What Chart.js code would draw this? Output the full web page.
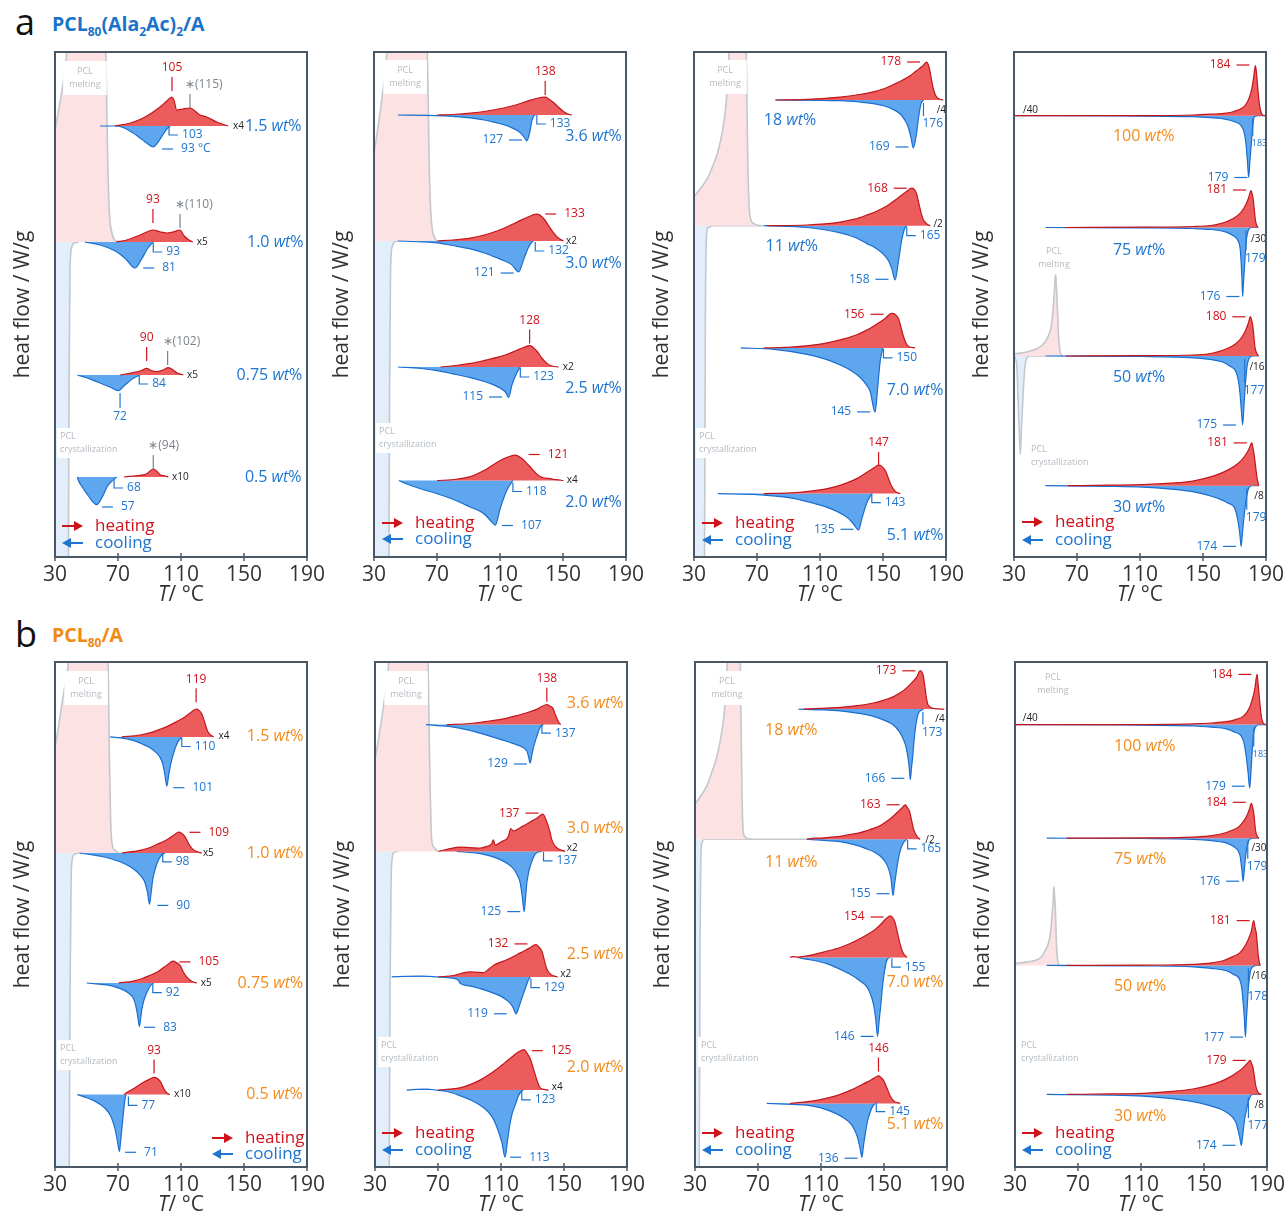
<!DOCTYPE html>
<html>
<head>
<meta charset="utf-8">
<script src="https://cdn.jsdelivr.net/npm/chart.js@4.4.0/dist/chart.umd.min.js"></script>
<style>
body{margin:0;background:#fff;width:1286px;height:1212px;position:relative;overflow:hidden;font-family:"Open Sans","Noto Sans",sans-serif}
canvas{position:absolute}
.hd{position:absolute;line-height:1}
.s{font-size:12px;position:relative;top:5px}
</style>
</head>
<body>
<div class="hd" style="left:15px;top:4px;font-size:36px;color:#111">a</div>
<div class="hd" style="left:52px;top:14px;font-size:19.5px;font-weight:700;color:#1a73c8">PCL<span class="s">80</span>(Ala<span class="s">2</span>Ac)<span class="s">2</span>/A</div>
<div class="hd" style="left:15px;top:616px;font-size:36px;color:#111">b</div>
<div class="hd" style="left:52px;top:625px;font-size:19.5px;font-weight:700;color:#f08a16">PCL<span class="s">80</span>/A</div>

<canvas id="a1"></canvas><canvas id="a2"></canvas><canvas id="a3"></canvas><canvas id="a4"></canvas>
<canvas id="b1"></canvas><canvas id="b2"></canvas><canvas id="b3"></canvas><canvas id="b4"></canvas>

<script>
// temperature axis
const tMin = 30, tMax = 190, tStep = 40;
const tTicks = [30, 70, 110, 150, 190];

// ---------- a : PCL80(Ala2Ac)2/A ----------
// each curve is [T, heat flow] relative to its own baseline (baseline offsets in aXBase)
const a1Samples = ['1.5', '1.0', '0.75', '0.5'];
const a1Base = [431, 315, 182, 80];
const a1Heat = [
  [[68,0],[78,3],[86,8],[91.4,13],[96.7,19],[101,25],[104.1,29],[105.5,26],[107.3,16],[111,17],[115.7,18],[122,11],[126.3,9],[132.7,4],[140,0]],
  [[69,0],[75.5,2],[84,7],[92.4,12],[97,10],[101,9],[105,10],[109.4,12],[112,6],[115,2],[117.4,0]],
  [[71.3,0],[79.7,2.3],[85,4.5],[88.2,6.7],[91,4.5],[94.6,3.3],[98.5,5],[102,7.3],[105,5],[107.3,2.3],[111.5,0]],
  [[73.8,0],[80,1],[84,1.7],[88,3],[92.4,8],[94.5,6],[96.7,2.3],[100,1],[102,0]]
];
const a1Cool = [
  [[58.6,0],[69.2,0],[74,-2],[79.7,-7],[84,-12],[88.2,-17],[92.4,-21],[95,-17],[98.8,-8],[101,-3],[103,0]],
  [[49,0],[58.6,-3],[67,-8],[72,-13],[75.5,-18],[80.8,-26],[85,-17],[89,-6],[92.4,0]],
  [[44.2,0],[50,-2.8],[56.5,-6.7],[64.9,-12],[70.2,-15.7],[74.4,-10],[79.7,-3.3],[84,0]],
  [[44.2,0],[45,-4],[47,-9.3],[51.2,-19],[56.5,-27.7],[60,-20],[63,-10],[66,-4.3],[69.2,0]]
];
const a1Melt = [[30,112],[33,138],[36,168],[38,200],[40,260],[61,260],[62.5,170],[63.5,80],[64.5,30],[66,10],[68,2],[72,0]];
const a1Cryst = [[30,-400],[38.3,-400],[38.9,-150],[39.5,-30],[40.5,-6],[42,-1],[45,0]];
const a1Labels = [
  [0,104.3,58,'105','r','up'],[0,115.7,41,'∗(115)','g','ups'],[0,102.4,-9,'103','b','br'],[0,98,-23,'93 °C','b','dl'],[0,143,0,'x4','k','l'],[0,150.6,0,'','wb','wt'],
  [1,92.2,42,'93','r','up'],[1,109.4,37,'∗(110)','g','ups'],[1,92.4,-10,'93','b','br'],[1,86,-26,'81','b','dl'],[1,120,0,'x5','k','l'],[1,151.9,0,'','wb','wt'],
  [2,88.2,37,'90','r','up'],[2,101.5,33,'∗(102)','g','ups'],[2,83.5,-9,'84','b','br'],[2,71.3,-42,'72','b','vt'],[2,113.8,0,'x5','k','l'],[2,145.3,0,'','wb','wt'],
  [3,92.4,31,'∗(94)','g','ups'],[3,67.5,-11,'68','b','br'],[3,59.8,-30,'57','b','dl'],[3,104.3,0,'x10','k','l'],[3,150.6,0,'','wb','wt'],
  [-1,49,479,'melting','p','pclm'],[-1,33.2,114,'crystallization','p','pclc']
];

const a2Samples = ['3.6', '3.0', '2.5', '2.0'];
const a2Base = [442, 316, 190, 76.5];
const a2Heat = [
  [[70.1,0],[80,0.5],[91.2,1.8],[102,4],[112.3,7],[120,10],[127.1,13.6],[133,16.5],[138.7,17.9],[141,16],[144,12.5],[147,8],[150.3,3.6],[153,1],[155.6,0]],
  [[70.1,0],[80,1],[91.2,2.9],[100,6],[108.1,10],[115,14.5],[120.8,18.9],[127,23.5],[133.4,26.8],[137.7,22.5],[141,15],[144,8.2],[147,3],[150.3,0]],
  [[72.2,0],[82,1.5],[91.2,3.6],[100,6.5],[108.1,9.6],[115,13],[120.8,16.8],[125,19.5],[128.8,21.4],[133.4,16],[136.5,9],[139.8,3.6],[143,1],[147.2,0]],
  [[70.1,0],[80.7,1],[91.2,3.9],[96,7],[101.8,11.8],[107,17],[112.3,21.8],[116,24],[119.7,25.4],[123,23],[126,18.9],[130,12],[133.4,6.4],[137,3],[141.9,1.8],[146,0.8],[150.3,0]]
];
const a2Cool = [
  [[45.2,0],[70.1,-0.7],[80,-1.5],[91.2,-2.9],[100,-5],[108.1,-7.9],[114,-10.5],[118.7,-13.6],[122,-16.5],[125,-21.4],[127.1,-25.7],[128.8,-17.9],[130.3,-5.4],[131.5,-1],[132.4,0]],
  [[45.2,0],[60,-0.8],[70.1,-1.8],[80,-4.5],[91.2,-7.9],[100,-12],[108.1,-16.8],[113,-20],[117.6,-23.9],[121.8,-31],[125,-18.6],[128.2,-6],[130,-1.5],[131.3,0]],
  [[45.2,0],[60,-1.5],[70.1,-3.6],[80,-6.8],[91.2,-10.7],[100,-14.5],[106,-17.9],[110,-21],[113.4,-25],[115.5,-30.4],[117.6,-17.9],[120.8,-5.4],[122.9,0]],
  [[45.8,0],[50,-3],[55.3,-6],[62,-9.5],[70.1,-13.2],[78,-17.5],[84.9,-22],[91,-26.5],[97.6,-31],[101,-35],[103.9,-40],[107,-44.6],[110.2,-27.5],[112.5,-17],[114.4,-9.6],[118.2,0]]
];
const a2Melt = [[30,88],[32,108],[34,130],[36,155],[38,185],[40,240],[63,240],[64.2,160],[65,80],[66,30],[67,12],[68.5,3],[70,0]];
const a2Cryst = [[30,-400],[39.2,-400],[39.9,-150],[40.5,-30],[41.5,-6],[43,-1],[45.2,0]];
const a2Labels = [
  [0,138.7,43,'138','r','up'],[0,133.4,-9,'133','b','br'],[0,124,-25,'127','b','dr'],[0,151.4,-21,'','wb','wt'],
  [1,138.7,27,'133','r','dl'],[1,151.9,0,'x2','k','l'],[1,132.4,-10,'132','b','br'],[1,118.7,-32,'121','b','dr'],[1,151.4,-22,'','wb','wt'],
  [2,128.8,46.6,'128','r','up'],[2,149.9,0,'x2','k','l'],[2,122.9,-10,'123','b','br'],[2,111.3,-30,'115','b','dr'],[2,151.4,-21,'','wb','wt'],
  [3,128.2,26,'121','r','dl'],[3,152.4,0,'x4','k','l'],[3,118.2,-11,'118','b','br'],[3,111.3,-45,'107','b','dl'],[3,151.4,-22,'','wb','wt'],
  [-1,49.7,480,'melting','p','pclm'],[-1,33.2,119,'crystallization','p','pclc']
];

const a3Samples = ['18', '11', '7.0', '5.1'];
const a3Base = [457, 331.3, 209.1, 63.4];
const a3Heat = [
  [[81.7,0],[101.8,0.7],[122.9,2.9],[135,5.5],[144,8.2],[151,11.5],[156.7,15.4],[162,19.5],[167.2,24.3],[171,29],[174.6,33.2],[177.8,37.9],[179.5,31.4],[180.6,22],[181.6,13.6],[183,6],[184.1,2.9],[186,0.8],[188.3,0]],
  [[76.4,0],[101.8,0.7],[122.9,3.6],[132,6.5],[139.8,10.7],[146,14.5],[152.4,19.6],[158,26],[163,32],[166,35.5],[168.3,37.5],[171.3,32],[172.8,22],[174,14.3],[175.3,7],[176.7,3.6],[178.5,1],[179.9,0]],
  [[74.3,0],[91.2,0.7],[112.3,4.3],[124,8.5],[133.4,13.2],[140,18],[146.1,23.9],[151,29],[155.6,34.6],[159.8,29.3],[161.5,20],[163,11.4],[164.6,5],[166.2,1.4],[170.4,0]],
  [[74.3,0],[91.2,0.7],[112.3,4.3],[120,7],[127.1,10.7],[134,15.5],[139.8,21.4],[144,25.5],[147.2,28.6],[151.4,23.2],[153.5,15],[155.6,7.1],[158,2],[160.9,0]]
];
const a3Cool = [
  [[81.7,0],[122.9,-0.7],[135,-2],[144,-3.6],[151,-6],[156.7,-9.6],[161,-14],[164,-20.4],[166,-27],[167.6,-36.4],[169.3,-47.9],[171,-36.4],[172.5,-18.6],[174,-4.3],[175.7,0]],
  [[74.3,0],[101.8,-1.8],[122.9,-7.1],[132,-11.5],[139.8,-17.9],[145.5,-22.5],[150.3,-28.6],[153.5,-35],[155.6,-42.9],[157.7,-54.3],[159.8,-35.7],[161.9,-14.3],[164,-1.8],[165.1,0]],
  [[59.6,0],[80.7,-1.4],[101.8,-6.4],[113,-11],[122.9,-17.1],[130,-23],[135.6,-29.6],[139,-36],[141.9,-43.9],[145,-64.3],[146.5,-42],[148.2,-13.6],[149.9,0]],
  [[45.2,0],[70.1,-1],[91.2,-4.3],[102,-8],[112.3,-12.5],[119,-16.5],[125,-21.4],[128.5,-25.5],[131.3,-30.4],[134.5,-36.4],[136.6,-25],[139.8,-8.9],[142.9,0]]
];
const a3Melt = [[30,29],[34,37],[38.4,47],[42,60],[44.8,72],[47,86],[49,104],[50.5,125],[51.5,150],[52.2,172],[53,220],[62.5,220],[63.4,150],[64.2,60],[65,20],[65.9,7],[68,2],[72,0]];
const a3Cryst = [[30,-400],[36.5,-400],[37.2,-100],[37.8,-15],[38.6,-3],[40,-1],[44,0],[74.3,0]];
const a3Labels = [
  [0,173.5,38,'178','r','dr'],[0,184.1,-10,'/4','k','l'],[0,175.7,-24,'176','b','vtl'],[0,166.2,-47,'169','b','dr'],[0,74.3,-20,'','wb','wt'],
  [1,165.1,37.5,'168','r','dr'],[1,182,2,'/2','k','l'],[1,165.1,-10,'165','b','br'],[1,153.5,-53.6,'158','b','dr'],[1,75.4,-20.7,'','wb','wt'],
  [2,150.3,33.6,'156','r','dr'],[2,150.3,-10,'150','b','br'],[2,141.9,-64,'145','b','dr'],[2,152.4,-42.8,'','wb','wt'],
  [3,147.2,50.7,'147','r','up'],[3,142.9,-9,'143','b','br'],[3,131.3,-35.7,'135','b','dr'],[3,152.4,-42,'','wb','wt'],
  [-1,49.7,480,'melting','p','pclm'],[-1,33.2,114,'crystallization','p','pclc']
];

const a4Samples = ['100', '75', '50', '30'];
const a4Base = [441.3, 329.5, 201, 71.3];
const a4Heat = [
  [[30,0],[100,0],[143.5,0.7],[155,1.5],[164.7,2.5],[170,4.5],[175.2,7.9],[177.5,12],[179.5,18.6],[181,27],[182,36.4],[183.3,50],[184,42],[184.7,29.3],[185.5,16],[186.2,7.9],[187.9,0.7],[190,0]],
  [[62.8,0],[110,0.3],[143.5,1],[155,2],[160.4,3.6],[166,6.5],[171,10.7],[174.5,16],[177.3,23.2],[179,30],[180.5,36.8],[181.3,33],[182,26.8],[182.7,16],[183.3,7.1],[184.2,2],[185,0]],
  [[62.8,0],[110,0.3],[143.5,1],[155,2.5],[160.4,4.6],[166,8],[171,12.5],[174.5,18.5],[176.9,25],[178.7,32.5],[180.1,39.3],[181,35],[181.6,30.4],[182.3,20],[183,8.9],[184.2,2.5],[185.4,0]],
  [[64.2,0],[90,0.5],[111.8,1],[130,2.5],[143.5,4.6],[153,8],[160.4,11.8],[166,15.8],[171,20.7],[174.5,25.5],[177.3,31.4],[179.3,37],[181,42.9],[181.8,37],[182.6,29.6],[183.5,18],[184.3,8.2],[185.4,0]]
];
const a4Cool = [
  [[30,0],[100,-0.3],[143.5,-1],[155,-2],[164.7,-3.6],[170,-6],[174.2,-10],[176,-16],[177.3,-27.9],[178.2,-45],[179,-61.8],[179.8,-45],[180.5,-31.4],[181.6,-10],[182.6,-1],[185,0],[190,0]],
  [[50,0],[110,-0.3],[143.5,-1],[155,-2],[164.7,-4.6],[169,-8],[172,-12.5],[173.5,-20],[174.2,-33.9],[174.7,-50],[175.2,-68.9],[175.7,-55],[176.3,-41],[177.3,-16],[178.6,-3.6],[180.5,0],[185,0]],
  [[50,0],[110,-0.5],[143.5,-1.8],[155,-3.5],[162.5,-6],[167,-10],[171,-16],[172.5,-25],[173.5,-37.5],[174.4,-55],[175.2,-68.9],[176,-50],[176.5,-37.5],[177.8,-12.5],[179.5,-1.8],[181.6,0],[185.4,0]],
  [[50,0],[90,-0.6],[111.8,-1.4],[130,-3.5],[143.5,-6],[153,-9.5],[160.4,-13.2],[166,-17.5],[170,-22],[171.5,-30],[172.7,-40],[173.5,-50],[174.2,-60.7],[175,-48],[175.7,-36.4],[177.3,-15],[179,-2.5],[181.1,0],[185.4,0]]
];
const a4Melt = [[30,2],[38,4],[44.2,7],[48,11],[50.5,16],[52.5,23],[53.7,30],[54.7,45],[55.4,59],[56,75],[56.4,83],[56.8,72],[57.3,59],[57.8,38],[58.3,20],[59,8],[59.6,2],[61,0]];
const a4Cryst = [[30,0],[31,-3],[32,-15],[32.5,-41],[33.3,-75],[34,-98],[34.8,-70],[35.7,-41],[36.7,-15],[37.8,-3.6],[40,0],[50,0]];
const a4Labels = [
  [0,179.5,50.7,'184','r','dr'],[0,35.7,6,'/40','k','l'],[0,181.6,-28,'183','b','vts'],[0,178.2,-61.8,'179','b','dr'],[0,92.8,-20.7,'','wo','wt'],
  [1,177.3,37.5,'181','r','dr'],[1,180.5,-12,'/30','k','l'],[1,177.3,-31,'179','b','vtl'],[1,173.1,-69,'176','b','dr'],[1,92.8,-23.2,'','wb','wt'],
  [2,176.9,39.2,'180','r','dr'],[2,179.5,-10.8,'/16','k','l'],[2,176.5,-34.7,'177','b','vtl'],[2,171,-69,'175','b','dr'],[2,92.8,-21.5,'','wb','wt'],
  [3,177.8,42.8,'181','r','dr'],[3,182.6,-10.7,'/8','k','l'],[3,177.8,-32,'179','b','vtl'],[3,171,-60.7,'174','b','dr'],[3,92.8,-21.3,'','wb','wt'],
  [-1,55.4,299.5,'melting','p','pclm'],[-1,40.8,101.5,'crystallization','p','pclc']
];

// ---------- b : PCL80/A ----------
const b1Samples = ['1.5', '1.0', '0.75', '0.5'];
const b1Base = [430.1, 314, 184, 72.4];
const b1Heat = [
  [[72.4,0],[84,1.9],[90,4],[96.8,7.7],[102,11],[107.3,15.4],[112,19.5],[115.8,23.8],[119.6,27.7],[121.5,26.5],[123.2,23],[125,15],[126.4,7.7],[128,3],[130.7,0]],
  [[72.4,0],[84,2.7],[90,5.2],[94.6,8.5],[99,11.5],[103.1,15.4],[106,18.5],[108.4,20.8],[110.5,19.5],[112.6,16.2],[115,9],[116.9,4.6],[120,1.5],[123.2,0]],
  [[70.3,0],[79.8,1.9],[85,4.2],[90.4,7.7],[95,11],[98.9,15.4],[102,19],[104.8,21.9],[107,20.5],[109.5,17.3],[111.5,11],[113.7,5.8],[117,1.5],[120.1,0]],
  [[73.9,0],[76,2.5],[79.8,5.8],[83,9],[86.2,12.3],[89.5,15],[92.9,17.3],[95,16],[96.7,13.5],[98.5,8],[99.9,3.8],[102,0.5],[103,0]]
];
const b1Cool = [
  [[65,0],[75.6,-1.9],[81,-4.2],[86.2,-7.7],[91,-11.5],[94.6,-16.2],[96.7,-20.5],[98.4,-26.9],[99.8,-38],[101,-49.2],[102.2,-38],[103.5,-26.9],[105,-18],[106.3,-11.5],[108,-5],[109.5,-1.9],[110.5,0]],
  [[45.5,0],[52,-1.5],[58.6,-3.1],[65,-5.5],[71.3,-8.8],[77,-13],[81.9,-18.5],[85,-24],[87.2,-30],[88.8,-40],[90,-51.2],[91,-40],[92.1,-26.2],[93.8,-15],[95.7,-6.9],[98,-1.5],[99.9,0]],
  [[50.1,0],[56,-0.8],[62.8,-1.9],[68,-3.8],[73.4,-6.9],[77,-10.5],[79.8,-15.4],[81.2,-22],[82.3,-30.8],[83.6,-43.5],[84.4,-35],[85.1,-26.9],[86.5,-17],[88.3,-9.6],[90.5,-3],[92.5,0]],
  [[44.2,0],[49,-2.5],[54.4,-5.8],[58.8,-10],[62.8,-15.4],[65.2,-21],[67.1,-28.8],[68.5,-37],[69.6,-46.2],[70.9,-56.9],[71.7,-46],[72.4,-34.6],[73.2,-22],[73.9,-11.5],[74.5,-4],[75.1,0]]
];
const b1Melt = [[30,106],[32,124],[34,145],[36,165],[38.5,192],[40,240],[63,240],[63.9,170],[64.6,90],[65.3,35],[66,12],[68,3],[70.3,0]];
const b1Cryst = [[30,-400],[38.8,-400],[39.5,-150],[40.2,-30],[41,-6],[42.5,-1],[45.5,0]];
const b1Labels = [
  [0,119.6,57.7,'119','r','up'],[0,110.5,-9.6,'110','b','br'],[0,133.8,1,'x4','k','l'],[0,105.2,-50.8,'101','b','dl'],[0,151.8,0,'','wo','wt'],
  [1,115.4,20.7,'109','r','dl'],[1,123.9,0,'x5','k','l'],[1,98.4,-8.9,'98','b','br'],[1,95,-52.4,'90','b','dl'],[1,151.8,0,'','wo','wt'],
  [2,109,21.1,'105','r','dl'],[2,122.6,0,'x5','k','l'],[2,92.1,-9.7,'92','b','br'],[2,86.6,-44.3,'83','b','dl'],[2,145.9,0,'','wo','wt'],
  [3,92.9,44.2,'93','r','up'],[3,105.6,0,'x10','k','l'],[3,76.6,-10.8,'77','b','br'],[3,74.5,-57.7,'71','b','dl'],[3,151.4,0,'','wo','wt'],
  [-1,49.7,479,'melting','p','pclm'],[-1,33.2,112,'crystallization','p','pclc']
];

const b2Samples = ['3.6', '3.0', '2.5', '2.0'];
const b2Base = [442.4, 315.6, 190.1, 76.9];
const b2Heat = [
  [[75.6,0],[90.4,1.1],[100,3],[111.6,5.7],[120,9],[126.4,11.8],[133,15.5],[139.1,20.1],[141,18.5],[142.9,16.5],[144.5,10],[145.9,4.7],[147,1.5],[148,0]],
  [[70.3,0],[77,2.5],[84,4.3],[90,3.8],[96.7,3.2],[101,5],[104.2,7.9],[105.2,11.5],[106.2,6.1],[110,9.5],[114.7,15],[116.2,22.9],[117.9,20.4],[123,24.5],[128.5,29.4],[133,33.5],[136.6,37.3],[139.1,29.4],[141,20],[142.3,11.5],[144.5,5],[146.5,2.5],[150.8,0]],
  [[70.3,0],[79.8,1.4],[85,3.5],[90.4,5],[95,4.6],[98.9,4.3],[102,7.5],[105.2,11.5],[111.6,15.8],[117,19.5],[122.2,24],[127.5,28.3],[132.3,32.3],[134.5,29],[135.9,25.8],[137.5,17],[139.1,7.9],[142,2],[145.9,0]],
  [[70.3,0],[77,1],[84,2.2],[90.4,5.5],[96.7,10],[102,15],[107.3,20.8],[112.5,27.5],[117.9,34.4],[121.5,38.5],[124.7,40.5],[126.5,37],[128.5,31.5],[130.5,22],[132.8,10],[134.9,2.2],[138,0.5],[140.2,0]]
];
const b2Cool = [
  [[62.4,0],[70,-1],[79.8,-2.5],[88,-5],[96.7,-8.6],[104,-12],[111.6,-15.8],[117,-18.5],[122.2,-21.5],[126.4,-26.5],[127.5,-32],[128.5,-38.4],[129.3,-33],[130.2,-25.8],[131.5,-18],[132.8,-11.5],[134.5,-4],[135.9,-0.7],[137,0]],
  [[81.9,0],[96.7,-2.2],[103,-4.5],[109.5,-8.2],[114,-12],[117.9,-17.2],[120.5,-24],[122.2,-31.5],[123.5,-45],[124.7,-60.2],[125.5,-48],[126.4,-31.5],[128,-18],[129.6,-10],[131.2,-4],[132.8,-1.1],[135.9,0]],
  [[40.6,0],[50,0.5],[58.6,0.7],[69.2,0],[81.9,-2.2],[83.2,-4],[84,-6.5],[90,-9],[96.7,-11.8],[103,-15],[109.5,-19],[113,-22.5],[115.8,-26.2],[117.8,-31],[119.6,-36.9],[121,-32],[122.2,-26.2],[124,-18],[125.4,-11.8],[127,-4.5],[128.5,0]],
  [[50.1,0],[56,0.8],[62.8,1],[69,0],[75.6,-1.4],[83,-5],[90.4,-9.7],[96,-14.5],[101,-20.4],[104.5,-27],[107.3,-36.6],[110.5,-52],[112.6,-67],[114,-52],[115.4,-36.6],[117,-24],[119,-15],[121,-6],[123.2,-0.7],[124.3,0]]
];
const b2Melt = [[30,92],[32,110],[34,130],[36,152],[38.5,185],[40,240],[63,240],[63.9,170],[64.8,80],[66,11.5],[67.5,4],[69.2,1],[70.3,0]];
const b2Cryst = [[30,-400],[38.8,-400],[39.5,-150],[40.2,-30],[41,-6],[42,-1],[45,0]];
const b2Labels = [
  [0,139.1,45.9,'138','r','up'],[0,136,-8.6,'137','b','br'],[0,126.4,-39.4,'129','b','dr'],[0,151.8,21.6,'','wo','wt'],
  [1,133.8,38.3,'137','r','dr'],[1,151.8,3,'x2','k','l'],[1,137,-9.4,'137','b','br'],[1,122.2,-60.2,'125','b','dr'],[1,151.8,22.9,'','wo','wt'],
  [2,126.8,33,'132','r','dr'],[2,147.6,3,'x2','k','l'],[2,129,-10.7,'129','b','br'],[2,113.7,-36.9,'119','b','dr'],[2,151.8,22.2,'','wo','wt'],
  [3,129.6,39.4,'125','r','dl'],[3,142.3,3,'x4','k','l'],[3,123.2,-9.7,'123','b','br'],[3,115.8,-67.1,'113','b','dl'],[3,151.8,22.5,'','wo','wt'],
  [-1,49.7,479,'melting','p','pclm'],[-1,33.8,115,'crystallization','p','pclc']
];

const b3Samples = ['18', '11', '7.0', '5.1'];
const b3Base = [457.9, 327.8, 209.5, 63.6];
const b3Heat = [
  [[98.9,0],[110,0.8],[122.2,1.8],[133,3.5],[143.4,6.1],[150,9],[156.1,12.5],[160.5,16.5],[164.6,21.5],[168,27],[170.9,32.3],[173,38.4],[175.1,32.3],[176,22],[176.8,12.5],[177.8,5],[179,2.5],[182,0.5],[188.3,0]],
  [[101,0],[106,1],[110.5,1.1],[116,2],[122.2,2.9],[128,4.5],[134.9,6.5],[140,9],[143.4,10.8],[148,14],[151.8,17.9],[155.5,22.5],[159.2,28],[161.5,31.5],[163.5,34.4],[165,31],[166.2,28],[167.5,19],[168.8,10],[170.5,4],[171.9,1.1],[173,0]],
  [[90.4,0],[92,1],[95,0.5],[100,1.5],[105.2,2.9],[113,6],[122.2,10],[128.5,14],[134.9,19],[140,23.5],[144.4,28],[148.5,34],[151,38.5],[154,41.6],[155.5,40],[157,35.1],[158.5,25],[160.2,13.6],[162,5],[164.6,0]],
  [[90.4,0],[97,1],[105.2,2.5],[113,5],[122.2,9],[128.5,13],[134.9,17.9],[139.5,21.5],[143.4,25],[146.5,27.6],[148,26],[149.6,23.3],[152,15],[154,7.2],[156.5,2],[160.3,0]]
];
const b3Cool = [
  [[95.7,0],[110,-0.7],[122.2,-1.8],[133,-4],[143.4,-7.2],[150,-11],[156.1,-16.1],[159.5,-22],[162.4,-30.5],[164,-38],[165.2,-48.4],[166,-58],[166.7,-70.6],[167.5,-58],[168.2,-48.4],[169,-33],[169.9,-19.7],[171,-9],[172,-3.6],[175.1,0]],
  [[101,0],[110,-1],[122.2,-2.5],[131,-5.5],[139.1,-9.7],[144,-13],[147.6,-16.8],[150.5,-22],[152.9,-29.4],[154.5,-40],[155.7,-56.3],[156.8,-44],[157.8,-33],[159,-21],[160.3,-11.5],[162,-4.5],[163.5,-1.4],[164.6,0]],
  [[94.6,0],[104,-2.5],[113.7,-6.1],[121,-11],[128.5,-16.8],[134,-22.5],[139.1,-29.4],[141.5,-37],[143.4,-47.3],[144.8,-62],[145.9,-78.9],[147,-62],[148,-47.3],[149,-30],[150.2,-15],[151.2,-6],[152.3,-1.4],[154,0]],
  [[75.6,0],[88,-0.8],[101,-1.8],[110,-4.5],[117.9,-9],[123.5,-13.5],[128.5,-19.7],[131,-25.5],[133.2,-34],[134.7,-44],[136,-53.8],[137,-42],[138.1,-30.5],[139.5,-18],[141.2,-9],[142.8,-3],[144.4,0]]
];
const b3Melt = [[30,35],[34,44],[37.4,53],[40.5,66],[43.8,82],[46,98],[48,118],[49,135],[49.7,154],[50.6,180],[51.5,230],[58.3,230],[59,150],[59.8,50],[60.7,6.5],[61.8,2.5],[62.8,1],[66,0]];
const b3Cryst = [[30,-400],[32.5,-400],[33.2,-100],[33.7,-15],[34.5,-3],[36,0],[101,0]];
const b3Labels = [
  [0,169.9,38.3,'173','r','dr'],[0,182.6,-9.7,'/4','k','l'],[0,174.7,-23.3,'173','b','vtl'],[0,162.9,-69.2,'166','b','dr'],[0,74.5,-21.5,'','wo','wt'],
  [1,159.9,34.4,'163','r','dr'],[1,176.2,-1,'/2','k','l'],[1,165,-9.7,'165','b','br'],[1,153.5,-54.5,'155','b','dr'],[1,74.5,-23,'','wo','wt'],
  [2,149.7,40.5,'154','r','dr'],[2,155,-9.7,'155','b','br'],[2,143.4,-78.9,'146','b','dr'],[2,151.8,-25.1,'','wo','wt'],
  [3,146.5,54.8,'146','r','up'],[3,145.1,-8.2,'145','b','br'],[3,133.2,-54.8,'136','b','dr'],[3,151.8,-21.5,'','wo','wt'],
  [-1,50.3,479,'melting','p','pclm'],[-1,33.8,115,'crystallization','p','pclc']
];

const b4Samples = ['100', '75', '50', '30'];
const b4Base = [442.4, 328.8, 201.6, 72.6];
const b4Heat = [
  [[30,0],[100,0],[143.1,0.7],[155,1.6],[164.2,2.9],[170,5],[174.8,8.2],[177.5,13],[179.4,19],[181,27],[182.2,35.1],[183.7,50.2],[184.3,42],[184.9,31.5],[185.7,18],[186.4,8.2],[187.9,1],[190,0]],
  [[62.8,0],[110,0.3],[143.1,1.1],[155,2.6],[162.1,4.7],[167,7.5],[171.6,10.8],[174.5,15.5],[176.9,21.5],[178.6,28],[180.1,34.8],[181,30],[181.6,25.1],[182.2,16],[182.8,7.2],[183.8,2],[184.9,0]],
  [[62.8,0],[110,0.3],[143.1,1.1],[155,2.6],[162.1,4.7],[168,8.5],[172.7,12.5],[175.5,18],[177.9,25.1],[180,34],[181.6,44.8],[182.4,38],[183.2,32.3],[183.9,20],[184.5,9],[185.2,2.5],[185.8,0]],
  [[63.2,0],[90,0.5],[111.4,1.1],[128,2.8],[143.1,5.4],[152,8.5],[160,12.5],[165.5,16.5],[170.5,21.5],[174,25.5],[176.5,29.4],[178,32],[179.4,34],[180.3,30.5],[181.1,26.9],[182,18],[182.8,9],[184.3,2],[186.4,0]]
];
const b4Cool = [
  [[30,0],[100,-0.4],[143.1,-1.4],[155,-2.6],[164.2,-4.3],[169.5,-7.5],[173.7,-11.5],[175.5,-19],[176.9,-33],[178,-48],[179,-63.4],[179.8,-48],[180.5,-29.4],[181,-17],[181.6,-7.9],[183.2,-1.4],[185,0],[190,0]],
  [[50.1,0],[110,-0.3],[143.1,-1.1],[155,-2.5],[164.2,-4.7],[168.5,-8],[171.6,-12.5],[173,-18.5],[173.7,-26.9],[174.3,-35],[174.8,-43],[175.4,-35],[176,-25.1],[176.6,-16],[177.3,-9],[178.2,-3.5],[179,-1.1],[181,0],[184.9,0]],
  [[50.1,0],[110,-0.5],[143.1,-1.4],[155,-3],[164.2,-5.4],[168.8,-9],[172.7,-14.3],[174,-23],[174.8,-35.8],[175.6,-52],[176.3,-71.7],[176.9,-55],[177.5,-39.4],[178.2,-22],[179,-10.8],[179.8,-4],[180.7,-1.8],[183,0],[185.8,0]],
  [[50.1,0],[90,-0.7],[111.4,-1.8],[128,-4],[143.1,-7.2],[152,-10.5],[160,-14.3],[165,-18.5],[168.4,-23.3],[170.5,-29],[171.6,-35.8],[172.7,-43],[173.7,-50.9],[174.5,-42],[175.2,-32.3],[176,-23],[176.9,-16.1],[178,-8],[179,-3.6],[180.7,0],[186.4,0]]
];
const b4Melt = [[30,2],[38,3.5],[43.7,5.4],[47,9],[49,14.3],[51,21],[52.2,28.7],[53.1,42],[53.9,57],[54.4,70],[54.7,78.9],[55.1,70],[55.6,57],[56,38],[56.4,18],[57,7],[57.5,2],[58.5,0],[62.8,0]];
const b4Cryst = [];
const b4Labels = [
  [0,180.1,50.2,'184','r','dr'],[0,34.9,6.5,'/40','k','l'],[0,181.6,-30,'183','b','vts'],[0,175.9,-61.6,'179','b','dr'],[0,92.8,-21.4,'','wo','wt'],
  [1,176.5,35.9,'184','r','dr'],[1,180.1,-9.6,'/30','k','l'],[1,177.8,-28.6,'179','b','vtl'],[1,172.3,-43,'176','b','dr'],[1,92.8,-21.5,'','wo','wt'],
  [2,179,44.8,'181','r','dr'],[2,180.1,-10.8,'/16','k','l'],[2,178.2,-31.6,'178','b','vtl'],[2,174.8,-71.7,'177','b','dr'],[2,92.8,-21.5,'','wo','wt'],
  [3,176.5,34,'179','r','dr'],[3,182.2,-10.8,'/8','k','l'],[3,178.2,-31.6,'177','b','vtl'],[3,170,-50.9,'174','b','dr'],[3,92.8,-22.3,'','wo','wt'],
  [-1,54.1,483,'melting','p','pclm'],[-1,33.8,115,'crystallization','p','pclc']
];

// ---------- styling ----------
const FAM = '"Open Sans", "Noto Sans", sans-serif';
const RED_FILL = '#ec5c5c', RED_LINE = '#c3161c';
const BLUE_FILL = '#5ea6ee', BLUE_LINE = '#1a6ed0';
const PINK = '#fce2e2', ICE = '#e2eefa', PCL_LINE = '#c2c8ce';
const FRAME = '#4a5866';
const COL = {r:'#d0121b', b:'#1d75d0', g:'#7d848a', k:'#222', wb:'#1d75d0', wo:'#f28c1c', p:'#b4bbc2'};

const panels = [
  {id:'a1', left:55,   top:52,  base:a1Base, samples:a1Samples, heat:a1Heat, cool:a1Cool, melt:a1Melt, cryst:a1Cryst, pclRow:1, labels:a1Labels, legend:[7,31,14]},
  {id:'a2', left:374,  top:52,  base:a2Base, samples:a2Samples, heat:a2Heat, cool:a2Cool, melt:a2Melt, cryst:a2Cryst, pclRow:1, labels:a2Labels, legend:[8,34,18]},
  {id:'a3', left:694,  top:52,  base:a3Base, samples:a3Samples, heat:a3Heat, cool:a3Cool, melt:a3Melt, cryst:a3Cryst, pclRow:1, labels:a3Labels, legend:[8,34,17]},
  {id:'a4', left:1014, top:52,  base:a4Base, samples:a4Samples, heat:a4Heat, cool:a4Cool, melt:a4Melt, cryst:a4Cryst, pclRow:2, labels:a4Labels, legend:[8,35,17]},
  {id:'b1', left:55,   top:662, base:b1Base, samples:b1Samples, heat:b1Heat, cool:b1Cool, melt:b1Melt, cryst:b1Cryst, pclRow:1, labels:b1Labels, legend:[157,29,13]},
  {id:'b2', left:375,  top:662, base:b2Base, samples:b2Samples, heat:b2Heat, cool:b2Cool, melt:b2Melt, cryst:b2Cryst, pclRow:1, labels:b2Labels, legend:[7,34,17]},
  {id:'b3', left:695,  top:662, base:b3Base, samples:b3Samples, heat:b3Heat, cool:b3Cool, melt:b3Melt, cryst:b3Cryst, pclRow:1, labels:b3Labels, legend:[7,34,17]},
  {id:'b4', left:1015, top:662, base:b4Base, samples:b4Samples, heat:b4Heat, cool:b4Cool, melt:b4Melt, cryst:b4Cryst, pclRow:2, labels:b4Labels, legend:[7,34,17]}
];

function shift(pts, b) {
  return pts.map(p => ({x: p[0], y: b + p[1]}));
}

function buildDatasets(P) {
  const common = {pointRadius: 0, cubicInterpolationMode: 'monotone', borderWidth: 1.2};
  const ds = [];
  const pb = P.base[P.pclRow];
  if (P.melt.length) ds.push({...common, data: shift(P.melt, pb), fill: {value: pb}, backgroundColor: PINK, borderColor: PCL_LINE, borderWidth: 1.6, order: 10});
  if (P.cryst.length) ds.push({...common, data: shift(P.cryst, pb), fill: {value: pb}, backgroundColor: ICE, borderColor: PCL_LINE, borderWidth: 1.6, order: 11});
  P.cool.forEach((c, i) => ds.push({...common, data: shift(c, P.base[i]), fill: {value: P.base[i]}, backgroundColor: BLUE_FILL, borderColor: BLUE_LINE, order: 2}));
  P.heat.forEach((h, i) => ds.push({...common, data: shift(h, P.base[i]), fill: {value: P.base[i]}, backgroundColor: RED_FILL, borderColor: RED_LINE, order: 1}));
  return ds;
}

function drawLabel(ctx, xs, ys, P, L) {
  const [row, T, dy, txt, c, mode] = L;
  const base = row < 0 ? 0 : P.base[row];
  const x = xs.getPixelForValue(T), y = ys.getPixelForValue(base + dy);
  const yb = ys.getPixelForValue(base);
  const col = COL[c];
  ctx.fillStyle = col; ctx.strokeStyle = col; ctx.lineWidth = 1.2;
  ctx.textBaseline = 'middle';
  ctx.font = (c === 'k' ? '10px ' : '12px ') + FAM;
  const line = (x1, y1, x2, y2) => { ctx.beginPath(); ctx.moveTo(x1, y1); ctx.lineTo(x2, y2); ctx.stroke(); };
  const text = (t, tx, al) => { ctx.textAlign = al; ctx.fillText(t, tx, y); };
  if (mode === 'l') text(txt, x, 'left');
  else if (mode === 'up') { line(x, y + 9, x, y + 23); text(txt, x, 'center'); }
  else if (mode === 'ups') { line(x, y + 9, x, y + 23); text(txt, x - 5, 'left'); }
  else if (mode === 'br') {
    ctx.beginPath(); ctx.moveTo(x, y - 9); ctx.lineTo(x, y); ctx.lineTo(x + 9, y); ctx.stroke();
    text(txt, x + 13, 'left');
  }
  else if (mode === 'dl') { line(x, y, x + 11, y); text(txt, x + 19, 'left'); }
  else if (mode === 'dr') { line(x - 13, y, x, y); text(txt, x - 19, 'right'); }
  else if (mode === 'vt') { line(x, y - 24, x, y - 9); text(txt, x, 'center'); }
  else if (mode === 'vtl' || mode === 'vts') {
    if (mode === 'vts') ctx.font = '9px ' + FAM;
    line(x, yb + 3, x, y - 8); text(txt, x - 1, 'left');
  }
  else if (mode === 'wt') {
    const n = P.samples[row] + ' ';
    ctx.textAlign = 'left';
    ctx.font = '16px ' + FAM; const w1 = ctx.measureText(n).width; ctx.fillText(n, x, y);
    ctx.font = 'italic 16px ' + FAM; const w2 = ctx.measureText('wt').width; ctx.fillText('wt', x + w1, y);
    ctx.font = '16px ' + FAM; ctx.fillText('%', x + w1 + w2, y);
  }
  else if (mode === 'pclm' || mode === 'pclc') {
    ctx.font = '9px ' + FAM;
    const w = Math.max(ctx.measureText('PCL').width, ctx.measureText(txt).width);
    ctx.fillStyle = '#fff';
    if (mode === 'pclm') ctx.fillRect(x - w / 2 - 6, y - 17, w + 12, 34);
    else ctx.fillRect(x - 3, y - 15, w + 8, 30);
    ctx.fillStyle = col;
    ctx.textAlign = mode === 'pclm' ? 'center' : 'left';
    ctx.fillText('PCL', x, y - 6.5);
    ctx.fillText(txt, x, y + 6.5);
  }
}

function arrow(ctx, x1, x2, y, col) {
  const d = x2 > x1 ? 1 : -1;
  ctx.strokeStyle = col; ctx.fillStyle = col; ctx.lineWidth = 2;
  ctx.beginPath(); ctx.moveTo(x1, y); ctx.lineTo(x2 - d * 6, y); ctx.stroke();
  ctx.beginPath(); ctx.moveTo(x2, y); ctx.lineTo(x2 - d * 9, y - 5); ctx.lineTo(x2 - d * 9, y + 5); ctx.closePath(); ctx.fill();
}

const decor = {
  id: 'decor',
  afterDatasetsDraw(chart, args, opts) {
    const P = opts.panel;
    const ctx = chart.ctx, ca = chart.chartArea;
    const xs = chart.scales.x, ys = chart.scales.y;
    ctx.save();
    P.labels.forEach(L => drawLabel(ctx, xs, ys, P, L));
    // legend
    const [dx, hy, cy] = P.legend;
    arrow(ctx, ca.left + dx, ca.left + dx + 21, ca.bottom - hy, '#d0121b');
    arrow(ctx, ca.left + dx + 21, ca.left + dx, ca.bottom - cy, '#1d75d0');
    ctx.font = '17px ' + FAM; ctx.textAlign = 'left'; ctx.textBaseline = 'middle';
    ctx.fillStyle = '#d0121b'; ctx.fillText('heating', ca.left + dx + 33, ca.bottom - hy);
    ctx.fillStyle = '#1d75d0'; ctx.fillText('cooling', ca.left + dx + 33, ca.bottom - cy);
    // frame and ticks across the bottom edge
    ctx.strokeStyle = FRAME; ctx.lineWidth = 2;
    ctx.strokeRect(ca.left, ca.top, ca.right - ca.left, ca.bottom - ca.top);
    ctx.lineWidth = 1.5;
    tTicks.forEach(t => {
      const x = xs.getPixelForValue(t);
      ctx.beginPath(); ctx.moveTo(x, ca.bottom - 4); ctx.lineTo(x, ca.bottom + 4); ctx.stroke();
    });
    // x title with italic T
    const cx = (ca.left + ca.right) / 2, ty = ca.bottom + 38;
    ctx.fillStyle = '#333';
    ctx.font = 'italic 21px ' + FAM; const w1 = ctx.measureText('T').width;
    ctx.font = '21px ' + FAM; const w2 = ctx.measureText('/ °C').width;
    const sx = cx - (w1 + w2) / 2;
    ctx.font = 'italic 21px ' + FAM; ctx.fillText('T', sx, ty);
    ctx.font = '21px ' + FAM; ctx.fillText('/ °C', sx + w1, ty);
    ctx.restore();
  }
};

panels.forEach(P => {
  const cv = document.getElementById(P.id);
  const W = 330, H = 567;
  cv.width = W; cv.height = H;
  cv.style.width = W + 'px'; cv.style.height = H + 'px';
  cv.style.left = (P.left - 55) + 'px';
  cv.style.top = (P.top - 10) + 'px';
  new Chart(cv, {
    type: 'line',
    data: {datasets: buildDatasets(P)},
    plugins: [decor],
    options: {
      responsive: false,
      animation: false,
      layout: {padding: {top: 10, right: 23, left: 0, bottom: 0}},
      plugins: {legend: {display: false}, tooltip: {enabled: false}, decor: {panel: P}},
      scales: {
        x: {
          type: 'linear', min: tMin, max: tMax,
          ticks: {stepSize: tStep, color: '#333', font: {size: 21, family: FAM}, padding: 5, maxRotation: 0},
          grid: {display: false, drawTicks: false},
          border: {display: false},
          afterFit: s => { s.height = 52; }
        },
        y: {
          min: 0, max: 505,
          ticks: {display: false},
          grid: {display: false},
          border: {display: false},
          title: {display: true, text: 'heat flow / W/g', color: '#333', font: {size: 21, family: FAM}, padding: {top: 10, bottom: 0}},
          afterFit: s => { s.width = 55; }
        }
      }
    }
  });
});
</script>
</body>
</html>
